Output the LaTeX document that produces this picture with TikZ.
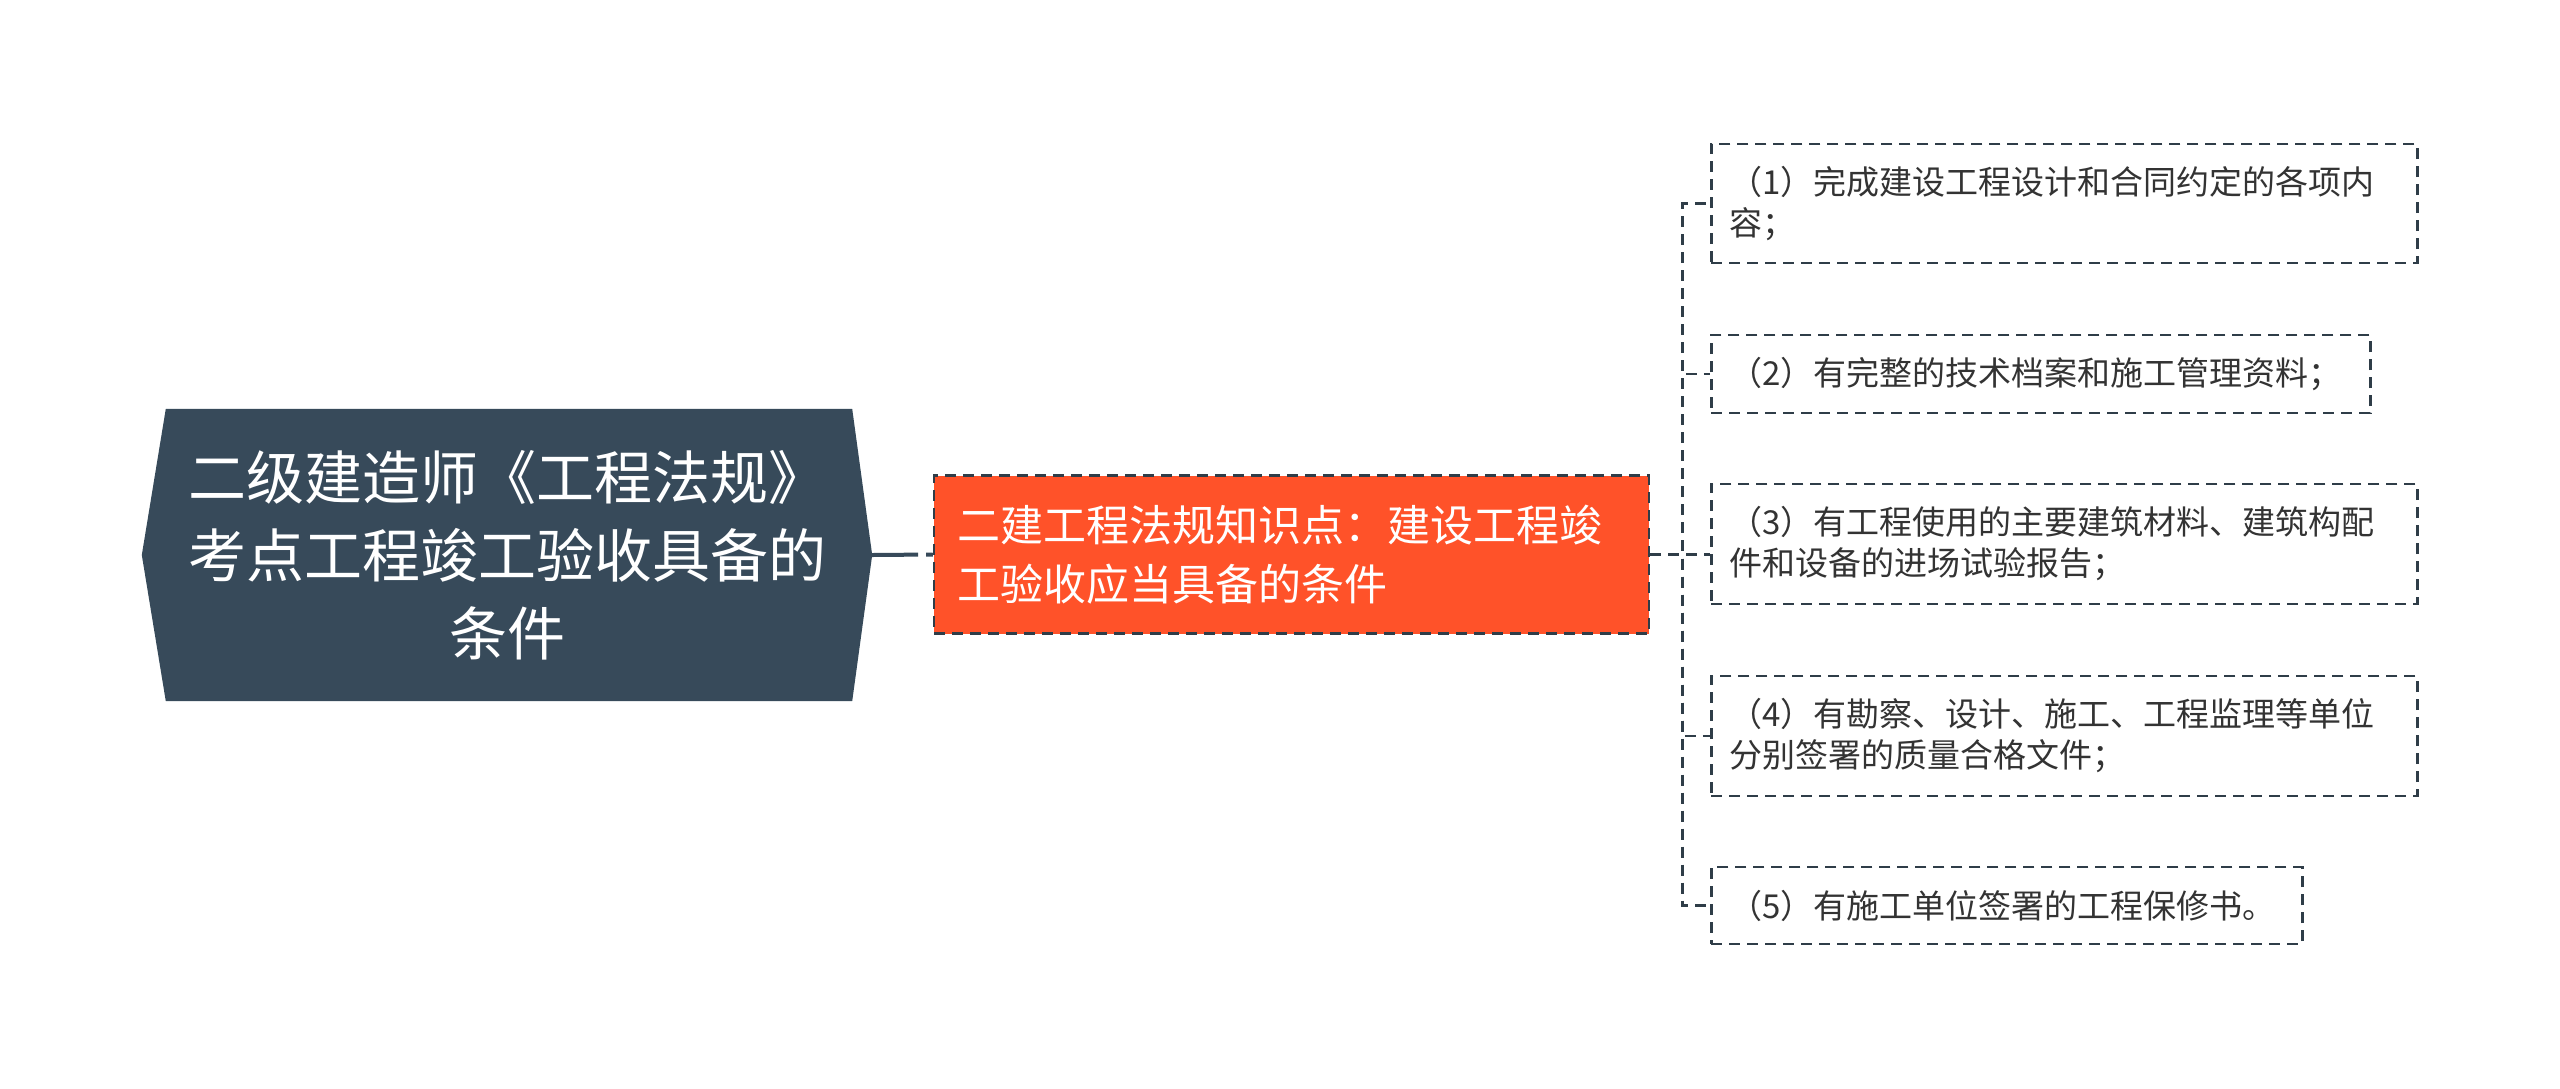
\documentclass[tikz,border=0pt]{standalone}
\usepackage{fontspec}
\setmainfont{Noto Sans CJK SC}
\usetikzlibrary{backgrounds}
\definecolor{rootc}{HTML}{374A5A}
\definecolor{orangec}{HTML}{FF5229}
\definecolor{bordc}{HTML}{2F3D48}
\definecolor{textc}{HTML}{333333}
\tikzset{
  roottext/.style={minimum width=730pt, minimum height=292pt, inner sep=0pt, align=center, text=white, font=\fontsize{58}{78}\selectfont},
  midbox/.style={draw=bordc, line width=2.5pt, dash pattern=on 11pt off 7pt, fill=orangec, text=white, text width=669pt, minimum height=158pt, inner xsep=23pt, inner ysep=0pt, align=left, font=\fontsize{43}{59}\selectfont},
  leafbox/.style={draw=bordc, line width=2.5pt, dash pattern=on 11pt off 7pt, fill=white, text=textc, inner xsep=18pt, inner ysep=0pt, align=left, anchor=west, font=\fontsize{33}{41}\selectfont},
  conn/.style={draw=bordc, line width=2.5pt, dash pattern=on 11pt off 7pt},
  rootconn/.style={draw=rootc, line width=4pt, dash pattern=on 46pt off 8pt}
}
\begin{document}
\begin{tikzpicture}[x=1pt,y=-1pt]
\useasboundingbox (0,0) rectangle (2560,1088);
\node[roottext] (root) at (507,555) {二级建造师《工程法规》\\考点工程竣工验收具备的\\条件};
\begin{scope}[on background layer]
  \fill[white] (0,0) rectangle (2560,1088);
  \fill[rootc] (root.west) -- ([xshift=24pt]root.north west) -- ([xshift=-20pt]root.north east) -- (root.east) -- ([xshift=-20pt]root.south east) -- ([xshift=24pt]root.south west) -- cycle;
\end{scope}
\node[midbox] (mid) at (1291.5,554.5) {二建工程法规知识点：建设工程竣\\工验收应当具备的条件};
\node[leafbox, text width=670pt, minimum height=119pt] (b1) at (1710,203.5) {（1）完成建设工程设计和合同约定的各项内\\容；};
\node[leafbox, text width=623pt, minimum height=78pt] (b2) at (1710,374) {（2）有完整的技术档案和施工管理资料；};
\node[leafbox, text width=670pt, minimum height=120pt] (b3) at (1710,544) {（3）有工程使用的主要建筑材料、建筑构配\\件和设备的进场试验报告；};
\node[leafbox, text width=670pt, minimum height=120pt] (b4) at (1710,736) {（4）有勘察、设计、施工、工程监理等单位\\分别签署的质量合格文件；};
\node[leafbox, text width=555pt, minimum height=77pt] (b5) at (1710,905.5) {（5）有施工单位签署的工程保修书。};
\draw[rootconn] (root.east) -- (mid.west);
\draw[conn] (mid.east) -- (mid.east -| b3.west);
\draw[conn] (mid.east) -- ++(32,0) |- (b1.west);
\draw[conn] (mid.east) -- ++(32,0) |- (b2.west);
\draw[conn] (mid.east) -- ++(32,0) |- (b4.west);
\draw[conn] (mid.east) -- ++(32,0) |- (b5.west);
\end{tikzpicture}
\end{document}
